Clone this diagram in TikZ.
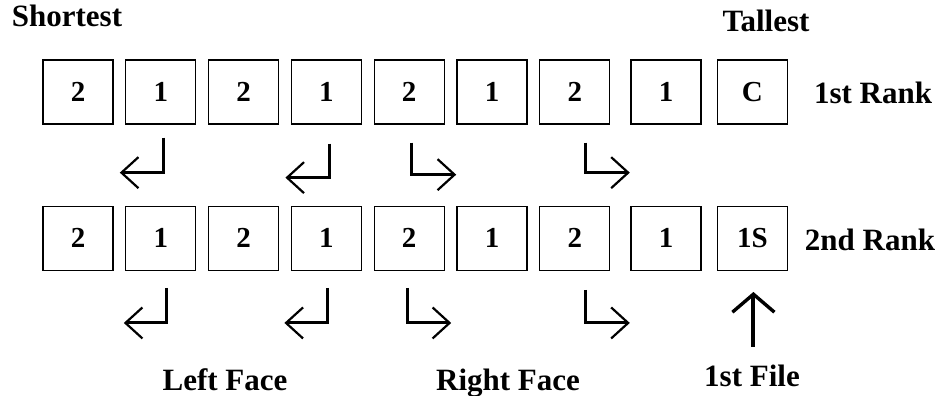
\documentclass[tikz,border=0pt]{standalone}
\usepackage{fontspec}
\setmainfont{Liberation Serif}
\usetikzlibrary{arrows.meta,positioning,calc}

\begin{document}
\begin{tikzpicture}[x=1pt,y=-1pt,node distance=11.5pt,line width=1.3pt,
    font=\bfseries\fontsize{29}{34}\selectfont]
  \tikzstyle{soldier}=[draw=black,minimum width=70pt,minimum height=64pt,inner sep=0pt]
  \tikzstyle{caption}=[anchor=base,inner sep=0pt,font=\bfseries\fontsize{31}{36}\selectfont]
  \tikzstyle{turn}=[line width=3pt,-{Straight Barb[length=17pt,width=31pt,line width=2.2pt]}]
  \tikzstyle{fwd}=[line width=4pt,-{Straight Barb[length=18pt,width=42pt,line width=3.4pt]}]

  \useasboundingbox (0,0) rectangle (942,396);

  % 1st rank
  \node[soldier] (a1) at (78,92) {2};
  \node[soldier] (a2) [right=of a1] {1};
  \node[soldier] (a3) [right=of a2] {2};
  \node[soldier] (a4) [right=of a3] {1};
  \node[soldier] (a5) [right=of a4] {2};
  \node[soldier] (a6) [right=of a5] {1};
  \node[soldier] (a7) [right=of a6] {2};
  \node[soldier] (a8) [right=20pt of a7] {1};
  \node[soldier] (a9) [right=15pt of a8] {C};

  % 2nd rank
  \node[soldier] (b1) [below=81pt of a1] {2};
  \node[soldier] (b2) [right=of b1] {1};
  \node[soldier] (b3) [right=of b2] {2};
  \node[soldier] (b4) [right=of b3] {1};
  \node[soldier] (b5) [right=of b4] {2};
  \node[soldier] (b6) [right=of b5] {1};
  \node[soldier] (b7) [right=of b6] {2};
  \node[soldier] (b8) [right=20pt of b7] {1};
  \node[soldier] (b9) [right=15pt of b8] {1S};

  \node[caption] (shortest) at (67,27)  {Shortest};
  \node[caption] (tallest)  at (766,32) {Tallest};
  \node[caption] (rank1)    at (873,103) {1st Rank};
  \node[caption] (rank2)    at (870,250) {2nd Rank};
  \node[caption] (left)     at (225,390) {Left Face};
  \node[caption] (right)    at (508,390) {Right Face};
  \node[caption] (file)     at (752,386) {1st File};

  % facing movements
  \draw[turn] ($(a2.south)+(3,13)$) |- ++(-44,35);
  \draw[turn] ($(a4.south)+(3,19)$) |- ++(-44,34);
  \draw[turn] ($(a5.south)+(2,18)$) |- ++(45,32);
  \draw[turn] ($(a7.south)+(11,18)$) |- ++(44,30);
  \draw[turn] ($(b2.south)+(6,17)$) |- ++(-43,35);
  \draw[turn] ($(b4.south)+(1,17)$) |- ++(-43,35);
  \draw[turn] ($(b5.south)+(-2,17)$) |- ++(44,35);
  \draw[turn] ($(b7.south)+(11,19)$) |- ++(44,33);
  \draw[fwd]  ($(b9.south)+(1,76)$) -- ($(b9.south)+(1,21)$);
\end{tikzpicture}
\end{document}
